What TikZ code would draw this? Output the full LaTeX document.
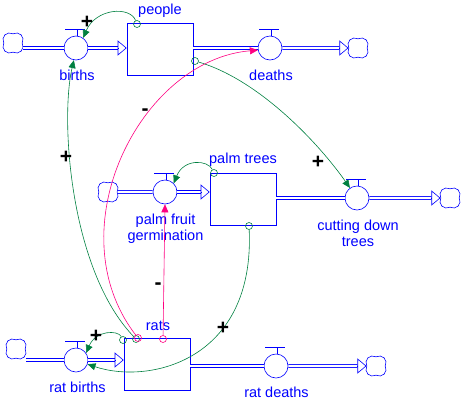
\documentclass[tikz,border=0pt]{standalone}
\usepackage{fontspec}
\setmainfont{Liberation Sans}
\usetikzlibrary{arrows.meta,shapes.symbols}
\definecolor{flowblue}{RGB}{0,0,255}
\definecolor{linkgreen}{RGB}{0,128,64}
\definecolor{linkpink}{RGB}{255,0,128}

\begin{document}
\begin{tikzpicture}[x=1pt,y=-1pt,
  stock/.style={draw=flowblue,semithick,minimum width=66pt,minimum height=52pt,inner sep=0pt},
  valve/.style={circle,draw=flowblue,semithick,minimum size=24pt,inner sep=0pt},
  sink/.style={cloud,cloud puffs=4,aspect=1,rotate=45,draw=flowblue,semithick,minimum size=23pt,inner sep=0pt},
  pipe/.style={draw=flowblue,double=white,double distance=2.4pt,line width=0.7pt},
  tip/.style={draw=flowblue,semithick,-{Triangle[open,length=9pt,width=15pt]}},
  lbl/.style={text=flowblue,font=\fontsize{14.5}{15.5}\selectfont,anchor=base,align=center,inner sep=0pt},
  tail/.style={circle,draw=#1,semithin,minimum size=7pt,inner sep=0pt},
  link/.style={draw=#1,line width=0.6pt,-{Triangle[length=8pt,width=7pt]}},
  sign/.style={font=\bfseries\fontsize{21}{21}\selectfont,inner sep=0pt},
  semithin/.style={line width=0.6pt}]
\useasboundingbox (0,0) rectangle (462,402);
\node[stock] (people) at (160,49) {};
\node[stock] (palm) at (243,199) {};
\node[stock] (rats) at (157,364) {};
\node[valve] (births) at (76,48) {};
\node[valve] (deaths) at (270,48) {};
\node[valve] (germ) at (165,192) {};
\node[valve] (cut) at (357,198) {};
\node[valve] (ratb) at (76,360) {};
\node[valve] (ratd) at (276,366) {};
\node[sink] (c1) at (13,43) {};
\node[sink] (c2) at (358,48) {};
\node[sink] (c3) at (108,192) {};
\node[sink] (c4) at (450,198) {};
\node[sink] (c5) at (16,349) {};
\node[sink] (c6) at (376,366) {};
\foreach \v in {births,deaths,germ,cut,ratb,ratd}{
  \draw[flowblue,line width=1.2pt] ([xshift=-11pt,yshift=6pt]\v.north) -- ++(20pt,0pt);
  \draw[flowblue,thin] ([xshift=1pt]\v.north) -- ++(0pt,6pt);
}
\draw[pipe] (c1.315 |- births) -- (births);
\draw[pipe,shorten >=9pt] (births) -- (births -| people.west);
\draw[tip] (births -| people.west) ++(-9pt,0pt) -- ++(9pt,0pt);
\draw[pipe] (people.east |- deaths) -- (deaths);
\draw[pipe,shorten >=9pt] (deaths) -- (c2.135);
\draw[tip] (c2.135) ++(-9pt,0pt) -- ++(9pt,0pt);
\draw[pipe] (c3.315) -- (germ);
\draw[pipe,shorten >=9pt] (germ) -- (germ -| palm.west);
\draw[tip] (germ -| palm.west) ++(-9pt,0pt) -- ++(9pt,0pt);
\draw[pipe] (palm.east |- cut) -- (cut);
\draw[pipe,shorten >=9pt] (cut) -- (c4.135);
\draw[tip] (c4.135) ++(-9pt,0pt) -- ++(9pt,0pt);
\draw[pipe] (c5.315 |- ratb) -- (ratb);
\draw[pipe,shorten >=9pt] (ratb) -- (ratb -| rats.west);
\draw[tip] (ratb -| rats.west) ++(-9pt,0pt) -- ++(9pt,0pt);
\draw[pipe] (rats.east |- ratd) -- (ratd);
\draw[pipe,shorten >=9pt] (ratd) -- (c6.135);
\draw[tip] (c6.135) ++(-9pt,0pt) -- ++(9pt,0pt);
\node[lbl] (people-l) at (160,14) {people};
\node[lbl] (births-l) at (77,80) {births};
\node[lbl] (deaths-l) at (271,80) {deaths};
\node[lbl] (palm-l) at (243,163) {palm trees};
\node[lbl] (germ-l) at (165.5,240) {palm fruit\\germination};
\node[lbl] (cut-l) at (358,246) {cutting down\\trees};
\node[lbl] (rats-l) at (158,330) {rats};
\node[lbl] (ratb-l) at (77.5,392) {rat births};
\node[lbl] (ratd-l) at (276.5,397) {rat deaths};
\node[tail=linkgreen] (people-t1) at (137,24) {};
\node[tail=linkgreen] (people-t2) at (195,61) {};
\node[tail=linkgreen] (palm-t1) at (214,173) {};
\node[tail=linkgreen] (palm-t2) at (249,226) {};
\node[tail=linkgreen] (rats-t1) at (123,340) {};
\node[tail=linkgreen] (rats-t2) at (136,339) {};
\node[tail=linkpink] (rats-t3) at (138,338) {};
\node[tail=linkpink] (rats-t4) at (163,339) {};
\draw[link=linkgreen] (people-t1) .. controls (130,6) and (96,8) .. (births.55);
\draw[link=linkgreen] (people-t2) .. controls (260,80) and (320,145) .. (cut.125);
\draw[link=linkgreen] (palm-t1) .. controls (208,160) and (184,158) .. (germ.45);
\draw[link=linkgreen] (palm-t2) .. controls (255,360) and (150,385) .. (ratb.340);
\draw[link=linkgreen] (rats-t1) .. controls (118,330) and (96,330) .. (ratb.35);
\draw[link=linkgreen] (rats-t2) .. controls (70,270) and (60,120) .. (births.260);
\draw[link=linkpink] (rats-t3) .. controls (55,230) and (140,60) .. (deaths.190);
\draw[link=linkpink] (rats-t4) -- (germ.south);
\node[sign] (s1) at (87,22) {+};
\node[sign] (s2) at (318,162) {+};
\node[sign] (s3) at (223,328) {+};
\node[sign] (s4) at (96,336) {+};
\node[sign] (s5) at (66,157) {+};
\node[sign] (s6) at (145,112) {-};
\node[sign] (s7) at (158,286) {-};
\end{tikzpicture}
\end{document}
